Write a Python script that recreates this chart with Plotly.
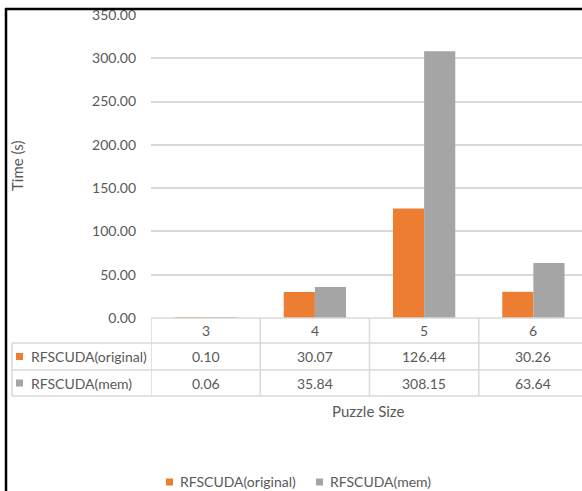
import plotly.graph_objects as go

# Chart data
puzzle_sizes = ["3", "4", "5", "6"]
series_names = ["RFSCUDA(original)", "RFSCUDA(mem)"]
time_original = [0.10, 30.07, 126.44, 30.26]
time_mem = [0.06, 35.84, 308.15, 63.64]
y_ticks = [0, 50, 100, 150, 200, 250, 300, 350]

colors = ["#ED7D31", "#A5A5A5"]
text_color = "#595959"
grid_color = "#D9D9D9"
font_family = "Lato, 'Open Sans', sans-serif"

W, H = 582, 491
L, R, T, B = 151, 582, 15, 318  # plot area in pixels


def px(x):
    return (x - L) / (R - L)


def py(y):
    return (B - y) / (B - T)


def label(x, y, text, xref="paper", size=14, xanchor="center", angle=0):
    return dict(x=x, y=y, xref=xref, yref="paper", text=text, showarrow=False,
                xanchor=xanchor, yanchor="middle", textangle=angle,
                font=dict(size=size, color=text_color, family=font_family))


fig = go.Figure()
xs = list(range(len(puzzle_sizes)))
for name, vals, col in zip(series_names, [time_original, time_mem], colors):
    fig.add_trace(go.Bar(x=xs, y=vals, name=name, marker=dict(color=col, line=dict(width=0)),
                         showlegend=False))

shapes = []
annotations = []

# outer frame (top and left edges)
shapes.append(dict(type="line", xref="paper", yref="paper", x0=px(5), x1=px(582), y0=py(9), y1=py(9),
                   line=dict(color="black", width=2.5)))
shapes.append(dict(type="line", xref="paper", yref="paper", x0=px(6), x1=px(6), y0=py(8), y1=py(491),
                   line=dict(color="black", width=2.5)))

# data table grid
row_y = [318, 343, 370, 396]
for i, yy in enumerate(row_y):
    x_start = 151 if i == 0 else 12
    shapes.append(dict(type="line", xref="paper", yref="paper", x0=px(x_start), x1=px(582),
                       y0=py(yy), y1=py(yy), line=dict(color=grid_color, width=1.5)))
for k in range(len(puzzle_sizes)):
    shapes.append(dict(type="line", xref="x", yref="paper", x0=k - 0.5, x1=k - 0.5,
                       y0=py(318), y1=py(396), line=dict(color=grid_color, width=1.5)))
shapes.append(dict(type="line", xref="paper", yref="paper", x0=px(12), x1=px(12),
                   y0=py(343), y1=py(396), line=dict(color=grid_color, width=1.5)))

# header row: category labels
for k, lab in enumerate(puzzle_sizes):
    annotations.append(label(k, py(330.5), lab, xref="x"))

# series rows
row_centers = [356.5, 383]
for name, vals, col, yc in zip(series_names, [time_original, time_mem], colors, row_centers):
    shapes.append(dict(type="rect", xref="paper", yref="paper", x0=px(16), x1=px(23),
                       y0=py(yc - 3.5), y1=py(yc + 3.5), fillcolor=col, line=dict(width=0)))
    annotations.append(label(px(29), py(yc), name, xanchor="left"))
    for k, v in enumerate(vals):
        annotations.append(label(k, py(yc), f"{v:.2f}", xref="x"))

# axis titles
annotations.append(label(px(368), py(411), "Puzzle Size", size=15))
annotations.append(label(px(17), py(166), "Time (s)", size=15, angle=-90))

# legend
legend_items = [(166, series_names[0], colors[0]), (316, series_names[1], colors[1])]
for x0, name, col in legend_items:
    shapes.append(dict(type="rect", xref="paper", yref="paper", x0=px(x0), x1=px(x0 + 7),
                       y0=py(478.5), y1=py(485.5), fillcolor=col, line=dict(width=0)))
    annotations.append(label(px(x0 + 12), py(482), name, xanchor="left"))

fig.update_layout(
    width=W, height=H,
    margin=dict(l=L, r=W - R, t=T, b=H - B, pad=0),
    paper_bgcolor="white", plot_bgcolor="white",
    barmode="group", bargap=0.43, bargroupgap=0,
    font=dict(family=font_family, color=text_color, size=14),
    shapes=shapes, annotations=annotations,
    xaxis=dict(range=[-0.5, 3.445], showticklabels=False, showgrid=False, zeroline=False,
               showline=False, fixedrange=True),
    yaxis=dict(range=[0, 350], tickvals=y_ticks, tickformat=".2f", showgrid=True,
               gridcolor=grid_color, gridwidth=1.5, zeroline=False, showline=False,
               ticklabelstandoff=14, tickfont=dict(size=14, color=text_color)),
)

fig.write_html("out.html")
